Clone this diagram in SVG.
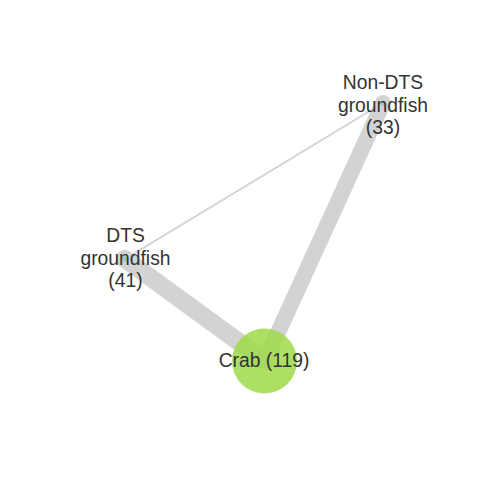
<svg xmlns="http://www.w3.org/2000/svg" width="480" height="480" viewBox="0 0 480 480">
<style>
.e{stroke:#d3d3d3;stroke-linecap:round;fill:none}
.lbl{font-family:"Liberation Sans",Arial,Helvetica,sans-serif;font-size:19.3px;fill:#333333;text-anchor:middle}
.dot{fill:#7fcfae;opacity:0.85}
</style>
<rect width="480" height="480" fill="#ffffff"/>
<g id="connectors">
<line class="e" x1="125" y1="259" x2="383" y2="103" stroke-width="2"/>
<line class="e" x1="125" y1="259" x2="265" y2="361" stroke-width="18"/>
<line class="e" x1="383" y1="103" x2="265" y2="361" stroke-width="16"/>
</g>
<g id="node-dts">
<circle class="dot" cx="125" cy="259" r="2.5"/>
<text class="lbl" x="125.5" y="242">DTS</text>
<text class="lbl" x="125.5" y="264.5">groundfish</text>
<text class="lbl" x="125.5" y="287">(41)</text>
</g>
<g id="node-nondts">
<circle class="dot" cx="383" cy="103" r="2.5"/>
<text class="lbl" x="383" y="89">Non-DTS</text>
<text class="lbl" x="383" y="111.5">groundfish</text>
<text class="lbl" x="383" y="134">(33)</text>
</g>
<g id="node-crab">
<circle cx="264.5" cy="361" r="32.5" fill="#9ed948" fill-opacity="0.85"/>
<text class="lbl" x="264" y="367">Crab (119)</text>
</g>
</svg>
